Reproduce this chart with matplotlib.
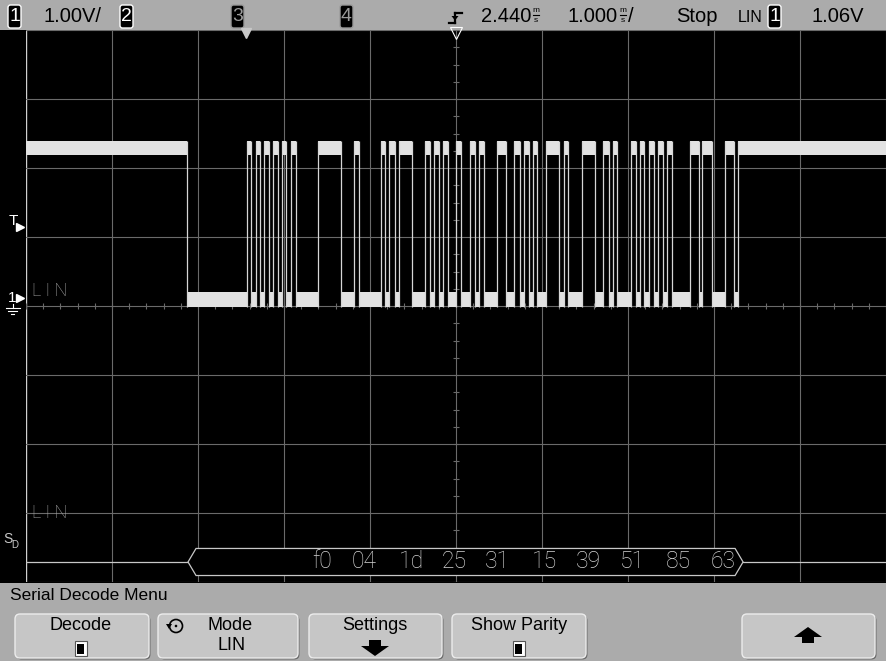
import matplotlib
matplotlib.use("Agg")
import matplotlib.pyplot as plt
import matplotlib.transforms as mtransforms
from matplotlib.patches import FancyBboxPatch, Rectangle, Polygon, Circle
import numpy as np

# status line settings
volts_per_div = 1.00
time_per_div = 1.000     # ms/div
time_delay = 2.440       # ms, screen centre relative to trigger
trigger_level = 1.06     # V
ch1_offset = -0.087      # V at screen centre

# LIN bus edges in ms from the trigger; line starts high (recessive)
edges_ms = [-0.691, 0.006, 0.056, 0.111, 0.161, 0.207, 0.266, 0.316, 0.374, 0.413,
            0.463, 0.518, 0.576, 0.839, 1.099, 1.257, 1.312, 1.568, 1.614, 1.664,
            1.727, 1.774, 1.925, 2.083, 2.138, 2.184, 2.242, 2.292, 2.347, 2.440,
            2.498, 2.603, 2.661, 2.711, 2.766, 2.913, 3.018, 3.118, 3.184, 3.234,
            3.285, 3.332, 3.385, 3.487, 3.641, 3.696, 3.746, 3.902, 4.056, 4.155,
            4.219, 4.269, 4.316, 4.475, 4.530, 4.580, 4.630, 4.688, 4.742, 4.785,
            4.843, 4.897, 4.952, 5.161, 5.266, 5.304, 5.421, 5.568, 5.676, 5.723]
high_band = (2.10, 2.30)   # V
low_band = (-0.10, 0.12)   # V

decoded_bytes = ['f0', '04', '1d', '25', '31', '15', '39', '51', '85', '63']
byte_centers_ms = [0.882, 1.370, 1.917, 2.423, 2.917, 3.475, 3.975, 4.493, 5.022, 5.551]

NARROW = ['Liberation Sans', 'DejaVu Sans']
THIN = ['Roboto', 'DejaVu Sans']
W, H = 886, 661
GRAY_BAR = '#ababab'
TRACE = '#e2e2e2'


def main():
    fig = plt.figure(figsize=(W / 100, H / 100), dpi=100, facecolor='black')

    # ---- status bar / menu (pixel coords) ----
    ui = fig.add_axes([0, 0, 1, 1], zorder=-1)
    ui.set_xlim(0, W)
    ui.set_ylim(H, 0)
    ui.axis('off')
    ui.add_patch(Rectangle((0, 0), W, 30, color=GRAY_BAR, lw=0))
    ui.add_patch(Rectangle((0, 583), W, H - 583, color=GRAY_BAR, lw=0))

    def chan_box(x, label, on=True):
        ui.add_patch(FancyBboxPatch((x, 5), 13, 23, boxstyle='round,pad=0,rounding_size=2.5',
                                    fc='black', ec='white' if on else '#9a9a9a', lw=1.0))
        ui.text(x + 6.5, 16.5, label, color='white' if on else '#9a9a9a', ha='center',
                va='center', fontsize=14, family=NARROW)

    chan_box(8, '1')
    chan_box(120, '2')
    chan_box(231, '3', on=False)
    chan_box(340, '4', on=False)
    chan_box(768, '1')

    def status(x, s, ha='left', size=14.5):
        ui.text(x, 17, s, ha=ha, va='center', fontsize=size, family=NARROW, color='black')

    def ms_stack(x):
        ui.text(x, 10, 'm', ha='center', va='center', fontsize=6, family=NARROW, color='black')
        ui.text(x, 20, 's', ha='center', va='center', fontsize=6, family=NARROW, color='black')
        ui.plot([x - 3, x + 3], [14.5, 14.5], color='black', lw=0.8)

    status(44, f'{volts_per_div:.2f}V/')
    status(531, f'{time_delay:.3f}', ha='right')
    ms_stack(536)
    status(618, f'{time_per_div:.3f}', ha='right')
    ms_stack(623)
    status(628, '/')
    status(697, 'Stop', ha='center')
    ui.text(738, 17.5, 'LIN', ha='left', va='center', fontsize=11.5, family=NARROW, color='black')
    status(838, f'{trigger_level:.2f}V', ha='center')

    # falling edge trigger icon
    ui.plot([455, 462], [13, 13], color='black', lw=1.6)
    ui.plot([455, 455], [13, 23], color='black', lw=1.6)
    ui.plot([449, 455], [23, 23], color='black', lw=1.6)
    ui.add_patch(Polygon([[451.5, 16], [458.5, 16], [455, 20.5]], closed=True, fc='black', ec='none'))

    # menu
    ui.text(10, 596, 'Serial Decode Menu', ha='left', va='center', fontsize=12.5,
            family=NARROW, color='black')

    def button(x0, x1):
        ui.add_patch(FancyBboxPatch((x0 + 1.5, 615.5), x1 - x0, 44, boxstyle='round,pad=0,rounding_size=5',
                                    fc='#6c6c6c', ec='none'))
        ui.add_patch(FancyBboxPatch((x0, 614), x1 - x0, 44, boxstyle='round,pad=0,rounding_size=5',
                                    fc='#c6c6c6', ec='#ececec', lw=1.0))

    def checkbox(xc):
        ui.add_patch(Rectangle((xc - 6, 641), 12, 15, fc='white', ec='#555555', lw=0.8))
        ui.add_patch(Rectangle((xc - 3.5, 643.5), 7, 10, fc='black', ec='none'))

    btns = [(15, 149), (158, 298), (309, 442), (452, 586), (742, 875)]
    for b in btns:
        button(*b)

    def btn_text(x, y, s):
        ui.text(x, y, s, ha='center', va='center', fontsize=13, family=NARROW, color='black')

    btn_text(81, 626, 'Decode')
    checkbox(81)
    btn_text(230, 625, 'Mode')
    btn_text(232, 646, 'LIN')
    ui.add_patch(Circle((176, 626), 6.5, fc='none', ec='black', lw=1.2))
    ui.add_patch(Polygon([[166, 624], [172, 624], [169, 629]], closed=True, fc='black'))
    ui.add_patch(Circle((176, 626), 1.3, fc='black', ec='none'))
    btn_text(375, 625, 'Settings')
    ui.add_patch(Polygon([[369, 640], [381, 640], [381, 646], [389, 646], [375, 656],
                          [361, 646], [369, 646]], closed=True, fc='black'))
    btn_text(519, 625, 'Show Parity')
    checkbox(519)
    ui.add_patch(Polygon([[802, 643], [814, 643], [814, 637], [822, 637], [808, 627],
                          [794, 637], [802, 637]], closed=True, fc='black'))

    # ---- scope graticule ----
    ax = fig.add_axes([26 / W, (H - 582) / H, 860 / W, 552 / H])
    t_start = time_delay - 5 * time_per_div
    t_end = t_start + 10 * time_per_div
    v_bot = ch1_offset - 4 * volts_per_div
    v_top = v_bot + 8 * volts_per_div
    ax.set_xlim(t_start, t_end)
    ax.set_ylim(v_bot, v_top)
    ax.axis('off')

    grid_c = '#6a6a6a'
    for k in range(1, 11):
        ax.axvline(t_start + k * time_per_div, color=grid_c, lw=0.8, zorder=1)
    ax.axvline(t_start, color='#d0d0d0', lw=1.0, zorder=1)
    for k in range(9):
        ax.axhline(v_bot + k * volts_per_div, color=grid_c, lw=0.8, zorder=1)

    # minor ticks on the centre lines
    t_mid = time_delay
    v_mid = ch1_offset
    tx = t_start + np.arange(0, 10.001, 0.2) * time_per_div
    ax.vlines(tx, v_mid - 0.045, v_mid + 0.045, color=grid_c, lw=0.8, zorder=1)
    vy = v_bot + np.arange(0, 8.001, 0.25) * volts_per_div
    ax.hlines(vy, t_mid - 0.035, t_mid + 0.035, color=grid_c, lw=0.8, zorder=1)

    # ---- LIN waveform ----
    bounds = [t_start] + edges_ms + [t_end]
    segs = [(bounds[i], bounds[i + 1] - bounds[i]) for i in range(len(bounds) - 1)]
    high_segs = segs[0::2]
    low_segs = segs[1::2]
    ax.broken_barh(high_segs, (high_band[0], high_band[1] - high_band[0]),
                   facecolors=TRACE, edgecolors='none', zorder=3)
    ax.broken_barh(low_segs, (low_band[0], low_band[1] - low_band[0]),
                   facecolors=TRACE, edgecolors='none', zorder=3)
    ax.vlines(edges_ms, low_band[0], high_band[1], colors='#d6d6d6', lw=0.9, zorder=3)

    # ---- serial decode bus ----
    bus_v = v_bot + 0.29 * volts_per_div
    hh = 0.196
    chev = 0.093
    bus_l = edges_ms[0] + 0.015
    bus_r = edges_ms[-1] + 0.055
    bus_c = '#c8c8c8'
    ax.plot([t_start, bus_l], [bus_v, bus_v], color=bus_c, lw=0.9, zorder=3)
    ax.plot([bus_r, t_end], [bus_v, bus_v], color=bus_c, lw=0.9, zorder=3)
    ax.add_patch(Polygon([[bus_l, bus_v], [bus_l + chev, bus_v + hh], [bus_r - chev, bus_v + hh],
                          [bus_r, bus_v], [bus_r - chev, bus_v - hh], [bus_l + chev, bus_v - hh]],
                         closed=True, fc='black', ec=bus_c, lw=0.9, zorder=3))
    for b, t in zip(decoded_bytes, byte_centers_ms):
        ax.text(t, bus_v, b, ha='center', va='center', fontsize=16.5, family=THIN,
                weight='light', color='#d4d4d4', zorder=4)

    # ---- channel labels and markers left of the graticule ----
    tl = mtransforms.blended_transform_factory(ax.transAxes, ax.transData)
    lab_c = '#a8a8a8'
    ax.text(t_start + 0.07, 0.0, 'L I N', ha='left', va='bottom', fontsize=13, family=THIN,
            weight='light', color=lab_c, zorder=4)
    ax.text(t_start + 0.07, bus_v + 0.58, 'L I N', ha='left', va='bottom', fontsize=13,
            family=THIN, weight='light', color=lab_c, zorder=4)

    ax.text(-0.0165, 0.03, '1', transform=tl, ha='center', va='center', fontsize=11,
            family=NARROW, color='white', clip_on=False)
    ax.plot([-0.0065], [0.03], transform=tl, marker='>', ms=6, color='white', clip_on=False)
    gx = -0.0155
    ax.plot([gx, gx], [-0.06, -0.12], transform=tl, color='white', lw=0.8, clip_on=False)
    for w, dy in [(0.008, -0.12), (0.005, -0.16), (0.002, -0.20)]:
        ax.plot([gx - w, gx + w], [dy, dy], transform=tl, color='white', lw=0.8, clip_on=False)

    ax.text(-0.0145, trigger_level + 0.09, 'T', transform=tl, ha='center', va='center',
            fontsize=11, family=NARROW, color='white', clip_on=False)
    ax.plot([-0.0075], [trigger_level], transform=tl, marker='>', ms=6, color='white',
            clip_on=False)

    ax.text(-0.0205, bus_v + 0.33, 'S', transform=tl, ha='center', va='center', fontsize=10,
            family=NARROW, color='#c8c8c8', clip_on=False)
    ax.text(-0.0128, bus_v + 0.24, 'D', transform=tl, ha='center', va='center', fontsize=7,
            family=NARROW, color='#c8c8c8', clip_on=False)

    # trigger point and delay reference markers on top edge
    tt = mtransforms.blended_transform_factory(ax.transData, ax.transAxes)
    ax.plot([0.0], [0.994], transform=tt, marker='v', ms=7, color='#c8c8c8', clip_on=False)
    ax.plot([time_delay], [0.994], transform=tt, marker='v', ms=8, mfc='none', mec='white',
            mew=0.8, clip_on=False)

    fig.savefig('out.png', dpi=100, facecolor='black')


if __name__ == "__main__":
    main()
